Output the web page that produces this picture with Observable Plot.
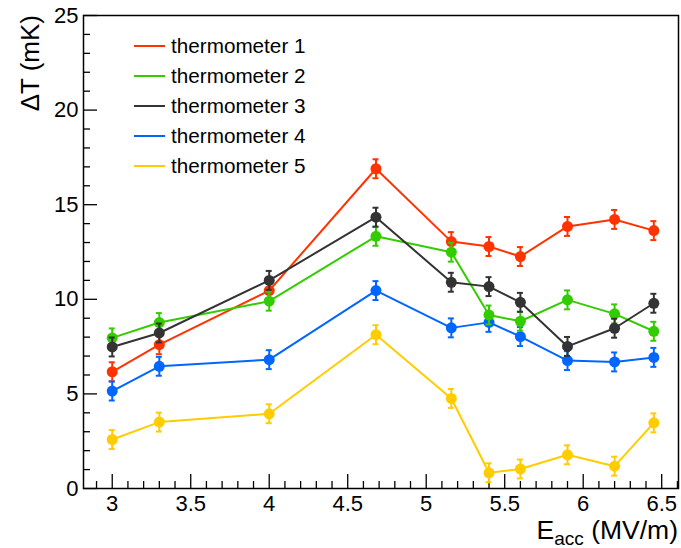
<!DOCTYPE html>
<html><head><meta charset="utf-8">
<script src="https://cdn.jsdelivr.net/npm/d3@7"></script>
<script src="https://cdn.jsdelivr.net/npm/@observablehq/plot@0.6"></script>
<style>
body{margin:0;background:#fff;}
#chart{width:681px;height:548px;}
</style></head><body><div id="chart"></div>
<script>
// ---- data ----
const eacc = [3.0, 3.3, 4.0, 4.68, 5.16, 5.40, 5.60, 5.90, 6.20, 6.45];
const names = ["thermometer 1", "thermometer 2", "thermometer 3", "thermometer 4", "thermometer 5"];
const t1 = [6.17, 7.60, 10.46, 16.90, 13.05, 12.79, 12.26, 13.85, 14.22, 13.63];
const t2 = [7.96, 8.77, 9.90, 13.33, 12.49, 9.17, 8.84, 9.97, 9.23, 8.31];
const t3 = [7.48, 8.22, 11.00, 14.34, 10.90, 10.67, 9.84, 7.51, 8.47, 9.79];
const t4 = [5.15, 6.46, 6.81, 10.46, 8.49, 8.78, 8.03, 6.76, 6.69, 6.93];
const t5 = [2.59, 3.51, 3.95, 8.13, 4.76, 0.83, 1.03, 1.78, 1.18, 3.47];
const dTerr = [0.5, 0.5, 0.5, 0.5, 0.5, 0.5, 0.5, 0.5, 0.5, 0.5];
const xTicks = [3, 3.5, 4, 4.5, 5, 5.5, 6, 6.5];
const yTicks = [0, 5, 10, 15, 20, 25];
const xMinor = d3.range(29, 67).map(v => v / 10).filter(v => !xTicks.includes(v));
const yMinor = d3.range(0, 26).filter(v => !yTicks.includes(v));
const xLabelMain = "E", xLabelSub = "acc", xLabelUnit = " (MV/m)";
const yLabel = "\u0394T (mK)";

const colors = ["#ff3300", "#33cc00", "#333333", "#0066ff", "#ffcc00"];
const values = [t1, t2, t3, t4, t5];
const drawOrder = [0, 3, 4, 1, 2];

const W = 681, H = 548;
const mL = 83, mT = 15, mR = 3, mB = 60;
const plotW = W - mL - mR, plotH = H - mT - mB;
const font = "'Liberation Sans', Arial, Helvetica, sans-serif";

const seriesMarks = [];
for (const k of drawOrder) {
  const rows = eacc.map((x, i) => ({series: names[k], x, y: values[k][i], e: dTerr[i]}));
  const c = colors[k];
  seriesMarks.push(
    Plot.line(rows, {x: "x", y: "y", stroke: c, strokeWidth: 2}),
    Plot.ruleX(rows, {x: "x", y1: d => d.y - d.e, y2: d => d.y + d.e, stroke: c, strokeWidth: 2}),
    Plot.ruleY(rows, {x1: "x", x2: "x", y: d => d.y + d.e, insetLeft: -3, insetRight: -3, stroke: c, strokeWidth: 2}),
    Plot.ruleY(rows, {x1: "x", x2: "x", y: d => d.y - d.e, insetLeft: -3, insetRight: -3, stroke: c, strokeWidth: 2}),
    Plot.dot(rows, {x: "x", y: "y", r: 5.5, fill: c, stroke: "none"})
  );
}

const legendMark = () => {
  const g = d3.create("svg:g").attr("text-anchor", "start");
  names.forEach((n, i) => {
    const y = 46 + 30 * i;
    g.append("line").attr("x1", 134).attr("x2", 165).attr("y1", y).attr("y2", y)
      .attr("stroke", colors[i]).attr("stroke-width", 2);
    g.append("text").attr("x", 171).attr("y", y).attr("dy", "0.36em").attr("text-anchor", "start")
      .attr("font-size", 20.7).attr("font-family", font).attr("fill", "#000").text(n);
  });
  return g.node();
};

const labelsMark = () => {
  const g = d3.create("svg:g").attr("font-family", font).attr("fill", "#000");
  g.append("text").attr("transform", `translate(38.5,${mT}) rotate(-90)`)
    .attr("text-anchor", "end").attr("font-size", 26).text(yLabel);
  const t = g.append("text").attr("x", W - mR).attr("y", 539).attr("text-anchor", "end").attr("font-size", 26.5);
  t.append("tspan").text(xLabelMain);
  t.append("tspan").attr("font-size", 19).attr("dy", 6).text(xLabelSub);
  t.append("tspan").attr("dy", -6).text(xLabelUnit);
  return g.node();
};

const chart = Plot.plot({
  width: W, height: H,
  marginLeft: mL, marginTop: mT, marginRight: mR, marginBottom: mB,
  style: {fontFamily: font, background: "#fff", color: "#000", overflow: "visible"},
  x: {domain: [2.817, 6.607]},
  y: {domain: [0, 25]},
  marks: [
    Plot.ruleX(xMinor, {stroke: "#000", strokeWidth: 1.3, insetTop: plotH - 7}),
    Plot.ruleX(xTicks, {stroke: "#000", strokeWidth: 1.3, insetTop: plotH - 14}),
    Plot.ruleY(yMinor, {stroke: "#000", strokeWidth: 1.3, insetRight: plotW - 7}),
    Plot.ruleY(yTicks, {stroke: "#000", strokeWidth: 1.3, insetRight: plotW - 14}),
    Plot.axisX(xTicks, {tickSize: 0, tickPadding: 7, fontSize: 22, label: null, tickFormat: d => String(d), fill: "#000"}),
    Plot.axisY(yTicks, {tickSize: 0, tickPadding: 5, fontSize: 22, label: null, tickFormat: d => String(d), fill: "#000"}),
    Plot.frame({stroke: "#000", strokeWidth: 1.5}),
    ...seriesMarks,
    legendMark,
    labelsMark
  ]
});
document.getElementById("chart").appendChild(chart);
</script>
</body></html>
